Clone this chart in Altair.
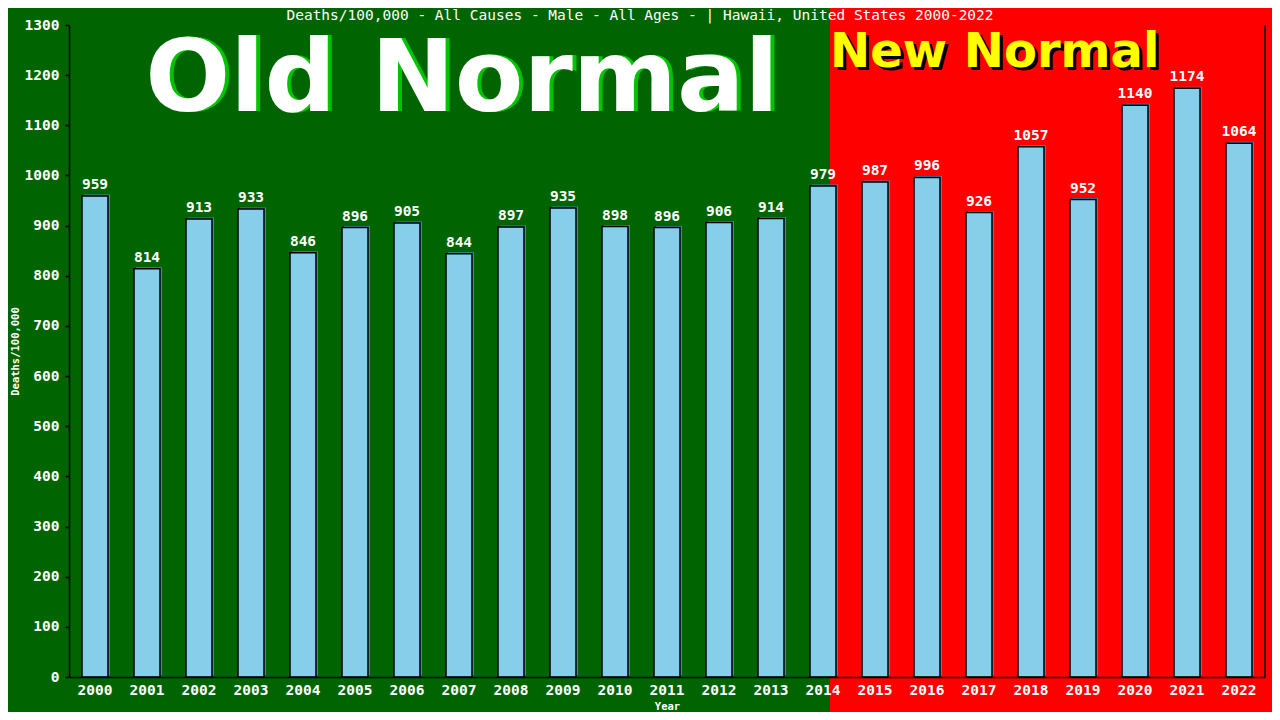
import altair as alt
import pandas as pd

years = [str(y) for y in range(2000, 2023)]
deaths = [959, 814, 913, 933, 846, 896, 905, 844, 897, 935, 898, 896,
          906, 914, 979, 987, 996, 926, 1057, 952, 1140, 1174, 1064]
y_ticks = list(range(0, 1301, 100))
title_text = "Deaths/100,000 - All Causes - Male - All Ages -  | Hawaii, United States 2000-2022"
old_label = "Old Normal"
new_label = "New Normal"

df = pd.DataFrame({"Year": years, "Deaths": deaths})
one = pd.DataFrame({"k": [0]})

W, H = 1196, 652
MONO = "DejaVu Sans Mono"
SANS = "DejaVu Sans"

x_enc = alt.X(
    "Year:N",
    scale=alt.Scale(paddingInner=0.5, paddingOuter=0.25),
    axis=alt.Axis(title="Year", labelAngle=0, ticks=False, labelPadding=6,
                  titleY=29, titleBaseline="middle", zindex=1),
)
y_enc = alt.Y(
    "Deaths:Q",
    scale=alt.Scale(domain=[0, 1300], nice=False),
    axis=alt.Axis(values=y_ticks, format="d", title="Deaths/100,000", tickSize=4,
                  labelPadding=6, titleX=-54, titleY=H / 2, titleBaseline="middle",
                  titleAlign="center", grid=False, zindex=1),
)

red_bg = alt.Chart(one).mark_rect(color="#ff0000").encode(
    x=alt.value(761), x2=alt.value(1211), y=alt.value(-25), y2=alt.value(H + 43)
)

title_mark = alt.Chart(one).mark_text(
    text=title_text, font=MONO, fontSize=14.5, color="white",
    align="center", baseline="middle"
).encode(x=alt.value(571), y=alt.value(-9))

old_shadow = alt.Chart(one).mark_text(
    text=old_label, font=SANS, fontSize=100, fontWeight="bold",
    color="#00c400", align="center", baseline="alphabetic"
).encode(x=alt.value(397), y=alt.value(86))
old_text = alt.Chart(one).mark_text(
    text=old_label, font=SANS, fontSize=100, fontWeight="bold",
    color="white", align="center", baseline="alphabetic"
).encode(x=alt.value(393), y=alt.value(86))

new_shadow = alt.Chart(one).mark_text(
    text=new_label, font=SANS, fontSize=48, fontWeight="bold",
    color="black", align="left", baseline="alphabetic"
).encode(x=alt.value(764), y=alt.value(45))
new_text = alt.Chart(one).mark_text(
    text=new_label, font=SANS, fontSize=48, fontWeight="bold",
    color="#ffff00", align="left", baseline="alphabetic"
).encode(x=alt.value(761), y=alt.value(42))

base = alt.Chart(df)
shadow_bars = base.mark_bar(fill="#4682b4", xOffset=2, yOffset=-1.5).encode(x=x_enc, y=y_enc)
bars = base.mark_bar(fill="#87ceeb", stroke="black", strokeWidth=1.5).encode(x=x_enc, y=y_enc)
labels = base.mark_text(
    color="white", font=MONO, fontSize=14.5, fontWeight="bold",
    baseline="bottom", dy=-4
).encode(x=x_enc, y=y_enc, text="Deaths:Q")

right_rule = alt.Chart(one).mark_rule(color="black", strokeWidth=1.5).encode(
    x=alt.value(W), y=alt.value(0), y2=alt.value(H)
)

chart = alt.layer(
    red_bg, title_mark, old_shadow, old_text, new_shadow, new_text,
    shadow_bars, bars, labels, right_rule
).properties(
    width=W, height=H,
    autosize=alt.AutoSizeParams(type="none"),
    padding={"left": 61, "top": 17, "right": 7, "bottom": 35},
    background="#006400",
).configure_view(stroke=None).configure_axis(
    domainColor="black", tickColor="black", domainWidth=1.5, tickWidth=1.5,
    labelColor="white", labelFont=MONO, labelFontSize=14.5, labelFontWeight="bold",
    titleColor="white", titleFont=MONO, titleFontSize=10.5, titleFontWeight="bold",
)

chart.save("out.html", embed_options={"renderer": "svg", "actions": False})
